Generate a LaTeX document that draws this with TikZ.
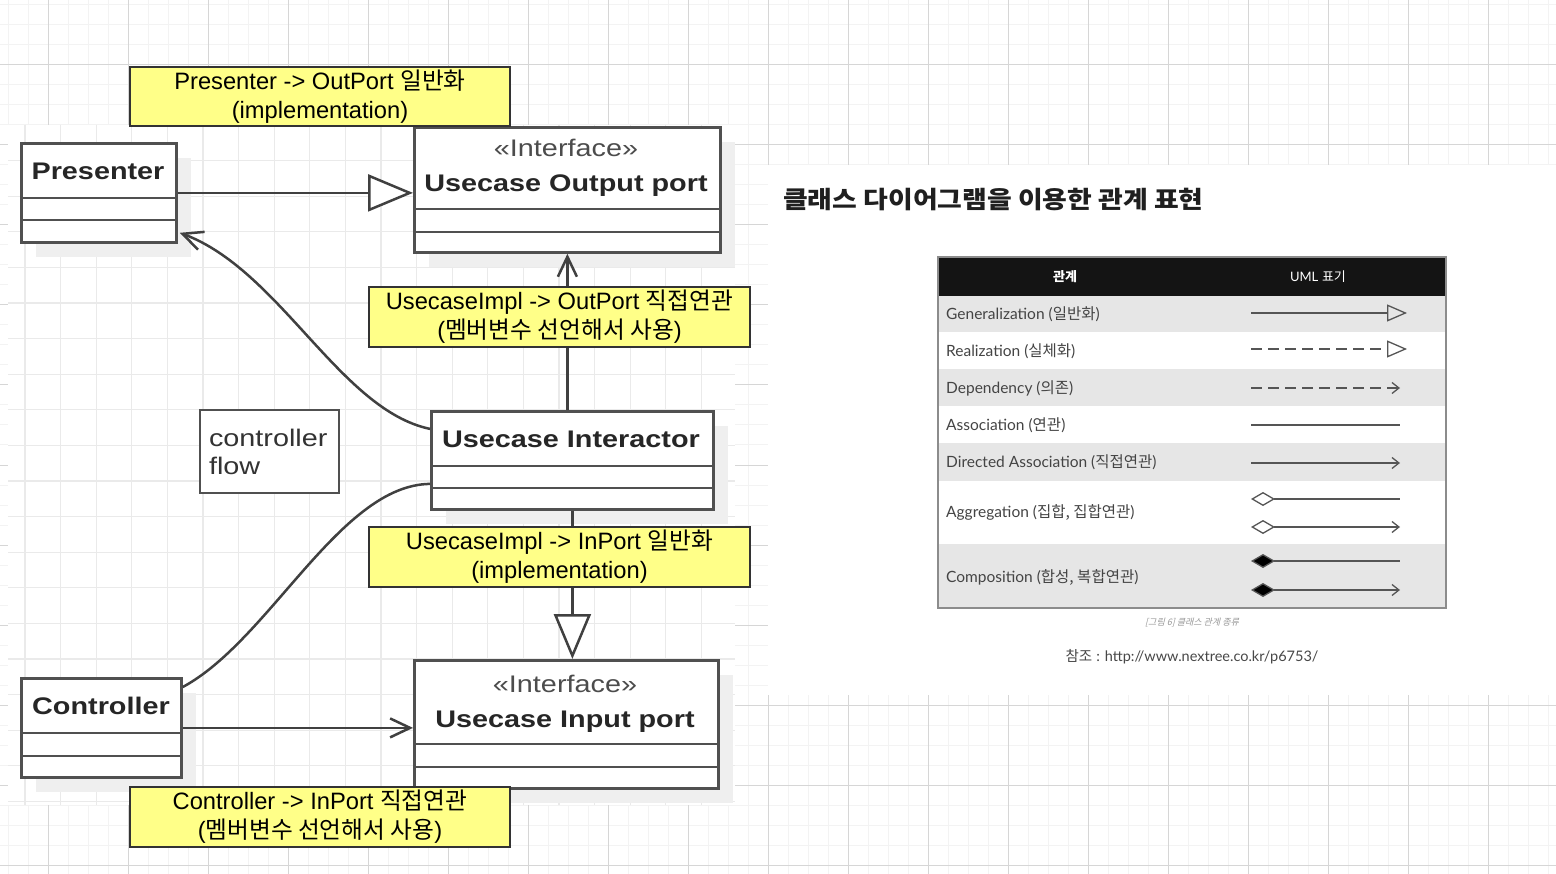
\documentclass[tikz,border=0pt]{standalone}
\usepackage{fontspec}
\setmainfont{Liberation Sans}
\newfontfamily\kr{Noto Sans CJK KR}
\newfontfamily\umlf[FakeStretch=1.2]{Liberation Sans}
\newfontfamily\tabf{Lato}
\newfontfamily\krtitle[FakeStretch=1.12, BoldFeatures={FakeStretch=1.12}]{Noto Sans CJK KR}
\newfontfamily\krit[FakeSlant=0.25]{Noto Sans CJK KR}
\usetikzlibrary{arrows.meta}
\newcommand\fs[2]{\fontsize{#1pt}{#2pt}\selectfont}
\definecolor{ylw}{HTML}{FFFF88}
\definecolor{bdr}{HTML}{505050}
\definecolor{conncol}{HTML}{404040}
\definecolor{gridmin}{HTML}{F3F3F3}
\definecolor{gridmaj}{HTML}{D6D6D6}
\definecolor{imggrid}{HTML}{EAEAEA}
\definecolor{shadowc}{HTML}{EFEFEF}
\definecolor{rowgray}{HTML}{E6E6E6}
\definecolor{tabtxt}{HTML}{444444}
\definecolor{symcol}{HTML}{555555}
\begin{document}
\begin{tikzpicture}[x=1pt,y=-1pt,
  umlbox/.style={draw=bdr, line width=2.8pt, fill=white, inner sep=0pt, anchor=north west},
  divline/.style={draw=bdr, line width=2.8pt},
  umltitle/.style={anchor=base, inner sep=0pt, font=\umlf\bfseries\fs{24}{28}, text=black!85},
  stereo/.style={anchor=base, inner sep=0pt, font=\umlf\fs{24}{28}, text=black!70},
  ylabel/.style={draw=black!80, line width=2pt, fill=ylw, align=center, inner sep=0pt, anchor=north west, font=\fs{23.7}{29}},
  conn/.style={draw=conncol, line width=2.5pt},
  gentri/.style={-{Triangle[length=45pt,width=37pt,fill=white]}},
  assocarrow/.style={-{Straight Barb[length=20pt,width=19pt]}},
  rowtxt/.style={anchor=west, inner sep=0pt, font=\tabf\fs{15.5}{18}, text=tabtxt},
  sym/.style={draw=symcol, line width=1.3pt},
  smalltri/.style={-{Triangle[open,length=20pt,width=17pt]}},
  smallbarb/.style={-{Straight Barb[length=7pt,width=11pt]}}
]
\useasboundingbox (0,0) rectangle (1556,874);
\fill[white] (0,0) rectangle (1556,874);
% page grid
\foreach \k in {0,...,77} \draw[gridmin, line width=1pt] ({8+20*\k},0) -- ({8+20*\k},874);
\foreach \k in {0,...,43} \draw[gridmin, line width=1pt] (0,{5+20*\k}) -- (1556,{5+20*\k});
\foreach \k in {0,...,18} \draw[gridmaj, line width=1pt] ({48+80*\k},0) -- ({48+80*\k},874);
\foreach \k in {0,...,10} \draw[gridmaj, line width=1pt] (0,{65+80*\k}) -- (1556,{65+80*\k});
% pasted diagram region
\fill[white] (8,125) rectangle (735,805);
\foreach \k in {0,...,19} \draw[imggrid, line width=1.2pt] ({25+35.6*\k},125) -- ({25+35.6*\k},805);
\foreach \k in {1,...,19} \draw[imggrid, line width=1.2pt] (8,{125+35.6*\k}) -- (735,{125+35.6*\k});
% pasted table region
\fill[white] (768,165) rectangle (1556,695);
% shadows
\fill[shadowc] (36,158) rectangle (191,257);
\fill[shadowc] (429,142) rectangle (735,267);
\fill[shadowc] (446,426) rectangle (728,524);
\fill[shadowc] (429,675) rectangle (733,803);
\fill[shadowc] (36,693) rectangle (196,792);
% classes
\node[umlbox, minimum width=155pt, minimum height=99pt] (presenter) at (20,142) {};
\draw[divline] ([yshift=-56pt]presenter.north west) -- ([yshift=-56pt]presenter.north east);
\draw[divline] ([yshift=-78pt]presenter.north west) -- ([yshift=-78pt]presenter.north east);
\node[umltitle] (presenterT) at (98,180) {Presenter};

\node[umlbox, minimum width=306pt, minimum height=125pt] (outport) at (413,126) {};
\draw[divline] ([yshift=-83pt]outport.north west) -- ([yshift=-83pt]outport.north east);
\draw[divline] ([yshift=-106pt]outport.north west) -- ([yshift=-106pt]outport.north east);
\node[stereo] (outportS) at (566,157) {«Interface»};
\node[umltitle] (outportT) at (566,192) {Usecase Output port};

\node[umlbox, minimum width=282pt, minimum height=98pt] (interactor) at (430,410) {};
\draw[divline] ([yshift=-56pt]interactor.north west) -- ([yshift=-56pt]interactor.north east);
\draw[divline] ([yshift=-78pt]interactor.north west) -- ([yshift=-78pt]interactor.north east);
\node[umltitle] (interactorT) at (571,447) {Usecase Interactor};

\node[umlbox, minimum width=304pt, minimum height=128pt] (inport) at (413,659) {};
\draw[divline] ([yshift=-85pt]inport.north west) -- ([yshift=-85pt]inport.north east);
\draw[divline] ([yshift=-108pt]inport.north west) -- ([yshift=-108pt]inport.north east);
\node[stereo] (inportS) at (565,692) {«Interface»};
\node[umltitle] (inportT) at (565,727) {Usecase Input port};

\node[umlbox, minimum width=160pt, minimum height=99pt] (controller) at (20,677) {};
\draw[divline] ([yshift=-56pt]controller.north west) -- ([yshift=-56pt]controller.north east);
\draw[divline] ([yshift=-79pt]controller.north west) -- ([yshift=-79pt]controller.north east);
\node[umltitle] (controllerT) at (101,714) {Controller};

\node[draw=bdr, line width=2.8pt, fill=white, minimum width=139pt, minimum height=83pt,
      text width=121pt, inner xsep=9pt, inner ysep=0pt, align=left,
      font=\umlf\fs{24}{28}, text=black!80] (cflow) at (269.5,451.5) {controller\\flow};

% connectors
\draw[conn, gentri] (presenter.east) -- (presenter.east -| outport.west);
\draw[conn, assocarrow] (interactor.north -| outport.south) -- (outport.south);
\draw[conn, gentri] (interactor.south) -- (interactor.south |- inport.north);
\draw[conn, assocarrow] (controller.east) -- (controller.east -| inport.west);
\draw[conn, assocarrow] ([yshift=31.5pt]interactor.west) .. controls (340,410) and (280,270) .. ([xshift=2pt,yshift=11pt]presenter.south east);
\draw[conn] ([yshift=-23.5pt]interactor.west) .. controls (340,485) and (270,640) .. ([yshift=-10pt]controller.north east);

% yellow labels
\node[ylabel, minimum width=380pt, minimum height=59pt] (lbl1) at (129,66) {Presenter -> OutPort {\kr 일반화}\\(implementation)};
\node[ylabel, minimum width=381pt, minimum height=60pt] (lbl2) at (368,286) {UsecaseImpl -> OutPort {\kr 직접연관}\\({\kr 멤버변수 선언해서 사용})};
\node[ylabel, minimum width=381pt, minimum height=60pt] (lbl3) at (368,526) {UsecaseImpl -> InPort {\kr 일반화}\\(implementation)};
\node[ylabel, minimum width=380pt, minimum height=60pt] (lbl4) at (129,786) {Controller -> InPort {\kr 직접연관}\\({\kr 멤버변수 선언해서 사용})};

% right side: title
\node[anchor=west, inner sep=0pt, font=\krtitle\bfseries\fs{24}{28}, text=black!88] (title) at (783,200) {클래스 다이어그램을 이용한 관계 표현};

% table
\fill[rowgray] (938,296) rectangle (1446,332);
\fill[rowgray] (938,369) rectangle (1446,406);
\fill[rowgray] (938,443) rectangle (1446,481);
\fill[rowgray] (938,544) rectangle (1446,608);
\fill[black!92] (938,257) rectangle (1446,296);
\draw[black!45, line width=1.5pt] (938,257) rectangle (1446,608);
\node[inner sep=0pt, font=\kr\bfseries\fs{13}{15}, text=white] (hRel) at (1065,277) {관계};
\node[inner sep=0pt, font=\fs{13}{15}, text=white] (hUml) at (1318,277) {{\tabf UML} {\kr 표기}};

\node[rowtxt] (rGen) at (946,314) {Generalization ({\kr 일반화})};
\node[rowtxt] (rReal) at (946,351) {Realization ({\kr 실체화})};
\node[rowtxt] (rDep) at (946,388) {Dependency ({\kr 의존})};
\node[rowtxt] (rAsc) at (946,425) {Association ({\kr 연관})};
\node[rowtxt] (rDir) at (946,462) {Directed Association ({\kr 직접연관})};
\node[rowtxt] (rAgg) at (946,513) {Aggregation ({\kr 집합, 집합연관})};
\node[rowtxt] (rCmp) at (946,577) {Composition ({\kr 합성, 복합연관})};

\draw[sym, smalltri] (1251,313) -- (1407,313);
\draw[sym, smalltri, dash pattern=on 11pt off 6pt] (1251,349) -- (1407,349);
\draw[sym, smallbarb, dash pattern=on 11pt off 6pt] (1251,388) -- (1400,388);
\draw[sym] (1251,425) -- (1400,425);
\draw[sym, smallbarb] (1251,463) -- (1400,463);
\draw[sym, {Diamond[open,length=24pt,width=14pt]}-] (1251,499) -- (1400,499);
\draw[sym, {Diamond[open,length=24pt,width=14pt]}-{Straight Barb[length=7pt,width=11pt]}] (1251,527) -- (1400,527);
\draw[sym, {Diamond[length=24pt,width=14pt,fill=black]}-] (1251,561) -- (1400,561);
\draw[sym, {Diamond[length=24pt,width=14pt,fill=black]}-{Straight Barb[length=7pt,width=11pt]}] (1251,590) -- (1400,590);

\node[inner sep=0pt, font=\krit\fs{9}{11}, text=black!40] (caption) at (1192,623) {[그림 6] 클래스 관계 종류};
\node[inner sep=0pt, font=\fs{14.5}{16}, text=black!72] (ref) at (1192,657) {{\kr 참조} {\tabf : http://www.nextree.co.kr/p6753/}};
\end{tikzpicture}
\end{document}
